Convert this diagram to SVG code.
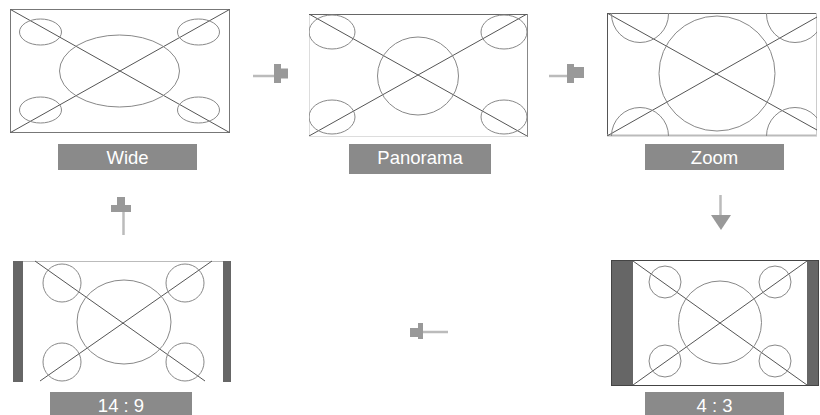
<svg xmlns="http://www.w3.org/2000/svg" width="820" height="415" viewBox="0 0 820 415">
<style>
.frame{fill:none;stroke:#777;stroke-width:1}
.diag{stroke:#555;stroke-width:1;fill:none}
.circ{fill:none;stroke:#888;stroke-width:1}
.bar{fill:#666}
.lbl{fill:#8a8a8a}
.txt{fill:#fff;font-family:"Liberation Sans",Arial,sans-serif;font-size:18.5px;text-anchor:middle}
.shaft{stroke:#bbb;stroke-width:2.5;fill:none}
.head{fill:#999}
</style>
<defs>
<clipPath id="cp2"><rect x="309" y="14" width="218" height="122"/></clipPath>
<clipPath id="cp3"><rect x="607" y="13" width="210" height="123"/></clipPath>
</defs>
<rect width="820" height="415" fill="#fff"/>

<g id="wide">
<rect class="frame" x="10.5" y="9.5" width="219" height="123"/>
<line class="diag" x1="10.5" y1="9.5" x2="229.5" y2="132.5"/>
<line class="diag" x1="229.5" y1="9.5" x2="10.5" y2="132.5"/>
<ellipse class="circ" cx="119.5" cy="71" rx="60" ry="36"/>
<ellipse class="circ" cx="40.5" cy="32" rx="21" ry="13"/>
<ellipse class="circ" cx="198.5" cy="32" rx="21" ry="13"/>
<ellipse class="circ" cx="40.5" cy="110" rx="21" ry="13"/>
<ellipse class="circ" cx="198.5" cy="110" rx="21" ry="13"/>
<rect class="lbl" x="58" y="144" width="139" height="26"/>
<text class="txt" x="127.5" y="163.5">Wide</text>
</g>

<g id="panorama">
<rect x="309.5" y="14.5" width="218" height="122" fill="none" stroke="#ddd" stroke-width="1"/>
<line x1="309" y1="14.5" x2="528" y2="14.5" stroke="#666" stroke-width="1"/>
<line x1="527.5" y1="14" x2="527.5" y2="137" stroke="#888" stroke-width="1"/>
<g clip-path="url(#cp2)">
<line class="diag" x1="309" y1="14" x2="527" y2="136"/>
<line class="diag" x1="527" y1="14" x2="309" y2="136"/>
<ellipse class="circ" cx="332" cy="32" rx="23" ry="17"/>
<ellipse class="circ" cx="504" cy="32" rx="23" ry="17"/>
<ellipse class="circ" cx="332" cy="117" rx="23" ry="17"/>
<ellipse class="circ" cx="504" cy="117" rx="23" ry="17"/>
</g>
<ellipse class="circ" cx="418" cy="76" rx="40.5" ry="39"/>
<rect class="lbl" x="349" y="144" width="142" height="30"/>
<text class="txt" x="420" y="163.5">Panorama</text>
</g>

<g id="zoom">
<line x1="607.5" y1="13" x2="607.5" y2="136" stroke="#555" stroke-width="1"/>
<line x1="607" y1="13.5" x2="817" y2="13.5" stroke="#666" stroke-width="1"/>
<line x1="607" y1="135.5" x2="817" y2="135.5" stroke="#bbb" stroke-width="2"/>
<line x1="816.5" y1="13" x2="816.5" y2="136" stroke="#ccc" stroke-width="1"/>
<g clip-path="url(#cp3)">
<line class="diag" x1="607" y1="13" x2="817" y2="130"/>
<line class="diag" x1="817" y1="17" x2="607" y2="136"/>
<circle class="circ" cx="640" cy="14" r="28.5"/>
<circle class="circ" cx="795" cy="14" r="28.5"/>
<circle class="circ" cx="640" cy="136" r="28.5"/>
<circle class="circ" cx="795" cy="136" r="28.5"/>
</g>
<ellipse class="circ" cx="717" cy="73.5" rx="58" ry="57.5"/>
<rect class="lbl" x="645" y="144" width="139" height="26"/>
<text class="txt" x="714.5" y="163.5">Zoom</text>
</g>

<g id="r149">
<rect class="bar" x="13" y="261" width="10" height="121"/>
<rect class="bar" x="223" y="261" width="8" height="121"/>
<line x1="23" y1="261.5" x2="223" y2="261.5" stroke="#bbb" stroke-width="1"/>
<line class="diag" x1="35" y1="261" x2="205" y2="381"/>
<line class="diag" x1="212" y1="261" x2="40" y2="381"/>
<ellipse class="circ" cx="124" cy="322" rx="47" ry="42"/>
<circle class="circ" cx="62" cy="283" r="19"/>
<circle class="circ" cx="185" cy="283" r="19"/>
<circle class="circ" cx="62" cy="362" r="19"/>
<circle class="circ" cx="185" cy="362" r="19"/>
<rect class="lbl" x="50" y="392" width="142" height="23"/>
<text class="txt" x="121" y="411.5">14 : 9</text>
</g>

<g id="r43">
<rect class="bar" x="611" y="260" width="22" height="125"/>
<rect class="bar" x="807" y="260" width="12" height="125"/>
<rect x="611.5" y="260.5" width="207" height="125" fill="none" stroke="#444" stroke-width="1"/>
<line class="diag" x1="633" y1="261" x2="807" y2="385"/>
<line class="diag" x1="807" y1="261" x2="633" y2="385"/>
<circle class="circ" cx="720" cy="322.5" r="41.5"/>
<circle class="circ" cx="665" cy="282" r="16"/>
<circle class="circ" cx="775" cy="282" r="16"/>
<circle class="circ" cx="665" cy="361" r="16"/>
<circle class="circ" cx="775" cy="361" r="16"/>
<rect class="lbl" x="645" y="392" width="139" height="23"/>
<text class="txt" x="714.5" y="411.5">4 : 3</text>
</g>

<g id="connectors">
<line class="shaft" x1="253" y1="76" x2="275" y2="76"/>
<path class="head" d="M274,64 H281 V68.5 H288 V78.5 H281 V83 H274 Z"/>
<line class="shaft" x1="549" y1="76" x2="568" y2="76"/>
<path class="head" d="M567,64 H574 V67 H584 V78 H574 V83 H567 Z"/>
<line class="shaft" x1="720.5" y1="195" x2="720.5" y2="216"/>
<path class="head" d="M711,215 H731 L721,230 Z"/>
<line class="shaft" x1="423" y1="332" x2="448" y2="332"/>
<path class="head" d="M423,323 V339 H418 V337 H410 V328 H418 V323 Z"/>
<line class="shaft" x1="123.5" y1="212" x2="123.5" y2="235"/>
<path class="head" d="M117,197 H125 V205 H131 V212 H111 V205 H117 Z"/>
</g>
</svg>
